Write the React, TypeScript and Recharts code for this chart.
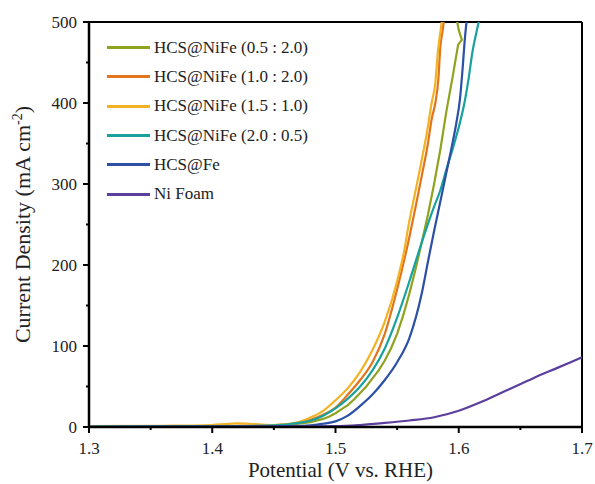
import { LineChart, Line, XAxis, YAxis, Legend, ReferenceLine, Label } from "recharts";

// potential (V vs. RHE) and current density (mA cm-2)
const v05 = [1.3, 1.4, 1.45, 1.46, 1.47, 1.475, 1.48, 1.485, 1.49, 1.495, 1.5, 1.505, 1.51, 1.515, 1.52, 1.525, 1.53, 1.535, 1.54, 1.545, 1.55, 1.555, 1.56, 1.565, 1.57, 1.575, 1.58, 1.585, 1.59, 1.595, 1.5995, 1.6025, 1.6, 1.5975];
const j05 = [0.5, 1, 1.5, 2.5, 4, 5, 6, 8, 10, 13, 17, 22, 27, 34, 42, 50, 60, 70, 82, 97, 115, 138, 165, 195, 228, 262, 300, 342, 390, 432, 472, 478, 490, 510];

const v10 = [1.3, 1.4, 1.44, 1.46, 1.47, 1.48, 1.49, 1.5, 1.51, 1.52, 1.53, 1.54, 1.55, 1.56, 1.565, 1.57, 1.575, 1.578, 1.581, 1.5835, 1.585, 1.587, 1.589];
const j10 = [0.5, 1, 2, 3, 5, 9, 15, 24, 40, 58, 80, 115, 170, 235, 272, 310, 350, 380, 400, 430, 468, 490, 515];

const v15 = [1.3, 1.36, 1.4, 1.41, 1.42, 1.43, 1.44, 1.45, 1.46, 1.47, 1.48, 1.49, 1.5, 1.51, 1.52, 1.53, 1.54, 1.55, 1.555, 1.56, 1.565, 1.57, 1.574, 1.578, 1.581, 1.583, 1.5855, 1.588];
const j15 = [1, 1.5, 2.5, 3.5, 4.5, 4, 3, 2.5, 3.5, 6, 12, 20, 33, 48, 68, 95, 130, 180, 212, 255, 292, 330, 362, 400, 425, 462, 492, 520];

const v20 = [1.3, 1.4, 1.45, 1.47, 1.48, 1.49, 1.5, 1.51, 1.52, 1.53, 1.54, 1.55, 1.56, 1.57, 1.58, 1.585, 1.59, 1.595, 1.6, 1.605, 1.608, 1.611, 1.614, 1.617];
const j20 = [0.5, 1, 2, 5, 8, 14, 23, 35, 50, 70, 97, 135, 180, 228, 272, 292, 318, 343, 370, 403, 430, 462, 485, 505];

const vFe = [1.3, 1.45, 1.48, 1.49, 1.5, 1.51, 1.52, 1.53, 1.54, 1.55, 1.56, 1.57, 1.575, 1.58, 1.585, 1.589, 1.592, 1.595, 1.598, 1.601, 1.603, 1.605, 1.607];
const jFe = [0.3, 0.8, 2, 4, 7, 14, 26, 40, 58, 80, 110, 165, 204, 242, 278, 307, 329, 351, 375, 405, 440, 480, 510];

const vNi = [1.3, 1.4, 1.45, 1.5, 1.52, 1.54, 1.56, 1.58, 1.6, 1.62, 1.64, 1.66, 1.68, 1.7];
const jNi = [0, 0.3, 0.5, 1, 2.5, 5, 8, 12, 20, 32, 46, 60, 73, 86];

const xMajor = [1.3, 1.4, 1.5, 1.6, 1.7];
const xMinor = [1.35, 1.45, 1.55, 1.65];
const yMajor = [0, 100, 200, 300, 400, 500];
const yMinor = [50, 150, 250, 350, 450];

const toPoints = (v: number[], j: number[]) => v.map((x, i) => ({ v: x, j: j[i] }));

// the 0.5 : 2.0 trace bends back near the top, so it stays linear
const series = [
  { name: "HCS@NiFe (0.5 : 2.0)", color: "#8fa31e", curve: "linear", data: toPoints(v05, j05) },
  { name: "HCS@NiFe (1.0 : 2.0)", color: "#e2741c", curve: "monotone", data: toPoints(v10, j10) },
  { name: "HCS@NiFe (1.5 : 1.0)", color: "#f3b223", curve: "monotone", data: toPoints(v15, j15) },
  { name: "HCS@NiFe (2.0 : 0.5)", color: "#19a19d", curve: "monotone", data: toPoints(v20, j20) },
  { name: "HCS@Fe", color: "#2b50a6", curve: "monotone", data: toPoints(vFe, jFe) },
  { name: "Ni Foam", color: "#5c3f9c", curve: "monotone", data: toPoints(vNi, jNi) },
];

const FONT = "'Liberation Serif', 'Times New Roman', serif";
const TICK = 6;

const XTick = (props: any) => {
  const { x, y, payload } = props;
  const major = xMajor.some((t) => Math.abs(t - payload.value) < 1e-6);
  const axisY = y - TICK;
  return (
    <g>
      <line x1={x} x2={x} y1={axisY} y2={axisY + (major ? TICK : 3)} stroke="#000" strokeWidth={2} />
      {major && (
        <text x={x} y={axisY + 27} textAnchor="middle" fontSize={17} fontFamily={FONT} fill="#222">
          {payload.value.toFixed(1)}
        </text>
      )}
    </g>
  );
};

const YTick = (props: any) => {
  const { x, y, payload } = props;
  const major = yMajor.includes(payload.value);
  const axisX = x + TICK;
  return (
    <g>
      <line x1={axisX - (major ? TICK : 3)} x2={axisX} y1={y} y2={y} stroke="#000" strokeWidth={2} />
      {major && (
        <text x={axisX - 12} y={y + 6} textAnchor="end" fontSize={17} fontFamily={FONT} fill="#222">
          {payload.value}
        </text>
      )}
    </g>
  );
};

const renderLegend = () => (
  <div style={{ fontFamily: FONT, fontSize: 17, color: "#222" }}>
    {series.map((s) => (
      <div key={s.name} style={{ display: "flex", alignItems: "center", height: 29.3 }}>
        <span style={{ display: "inline-block", width: 43, height: 3, background: s.color, marginRight: 4 }} />
        <span style={{ whiteSpace: "nowrap" }}>{s.name}</span>
      </div>
    ))}
  </div>
);

const YTitle = (props: any) => {
  const { viewBox } = props;
  const cx = 30;
  const cy = viewBox.y + viewBox.height / 2;
  return (
    <text x={cx} y={cy} transform={`rotate(-90, ${cx}, ${cy})`} textAnchor="middle" fontSize={22} fontFamily={FONT} fill="#222">
      Current Density (mA cm
      <tspan dy={-8} fontSize={14}>-2</tspan>
      <tspan dy={8}>)</tspan>
    </text>
  );
};

const XTitle = (props: any) => {
  const { viewBox } = props;
  return (
    <text x={viewBox.x + viewBox.width / 2 + 5} y={477} textAnchor="middle" fontSize={21} fontFamily={FONT} fill="#222">
      Potential (V vs. RHE)
    </text>
  );
};

export default function App() {
  return (
    <div style={{ position: "absolute", left: 0, top: 0, background: "#fff" }}>
      <LineChart width={595} height={484} margin={{ top: 22, right: 13, bottom: 17, left: 29 }}>
        <XAxis
          dataKey="v"
          type="number"
          domain={[1.3, 1.7]}
          ticks={[...xMajor, ...xMinor].sort((a, b) => a - b)}
          allowDataOverflow
          height={40}
          tickSize={TICK}
          tickMargin={0}
          tickLine={{ stroke: "none" }}
          axisLine={{ stroke: "#000", strokeWidth: 2.5 }}
          tick={<XTick />}
          interval={0}
        >
          <Label content={<XTitle />} />
        </XAxis>
        <YAxis
          dataKey="j"
          type="number"
          domain={[0, 500]}
          ticks={[...yMajor, ...yMinor].sort((a, b) => a - b)}
          allowDataOverflow
          width={60}
          tickSize={TICK}
          tickMargin={0}
          tickLine={{ stroke: "none" }}
          axisLine={{ stroke: "#000", strokeWidth: 2.5 }}
          tick={<YTick />}
          interval={0}
        >
          <Label content={<YTitle />} />
        </YAxis>
        <ReferenceLine y={500} stroke="#000" strokeWidth={2} />
        <ReferenceLine x={1.7} stroke="#000" strokeWidth={2} />
        {series.map((s) => (
          <Line
            key={s.name}
            data={s.data}
            dataKey="j"
            name={s.name}
            type={s.curve as any}
            stroke={s.color}
            strokeWidth={2.2}
            dot={false}
            isAnimationActive={false}
          />
        ))}
        <Legend
          layout="vertical"
          align="center"
          verticalAlign="middle"
          content={renderLegend}
          wrapperStyle={{ left: 107, top: 33, width: 240, height: "auto" }}
        />
      </LineChart>
    </div>
  );
}
